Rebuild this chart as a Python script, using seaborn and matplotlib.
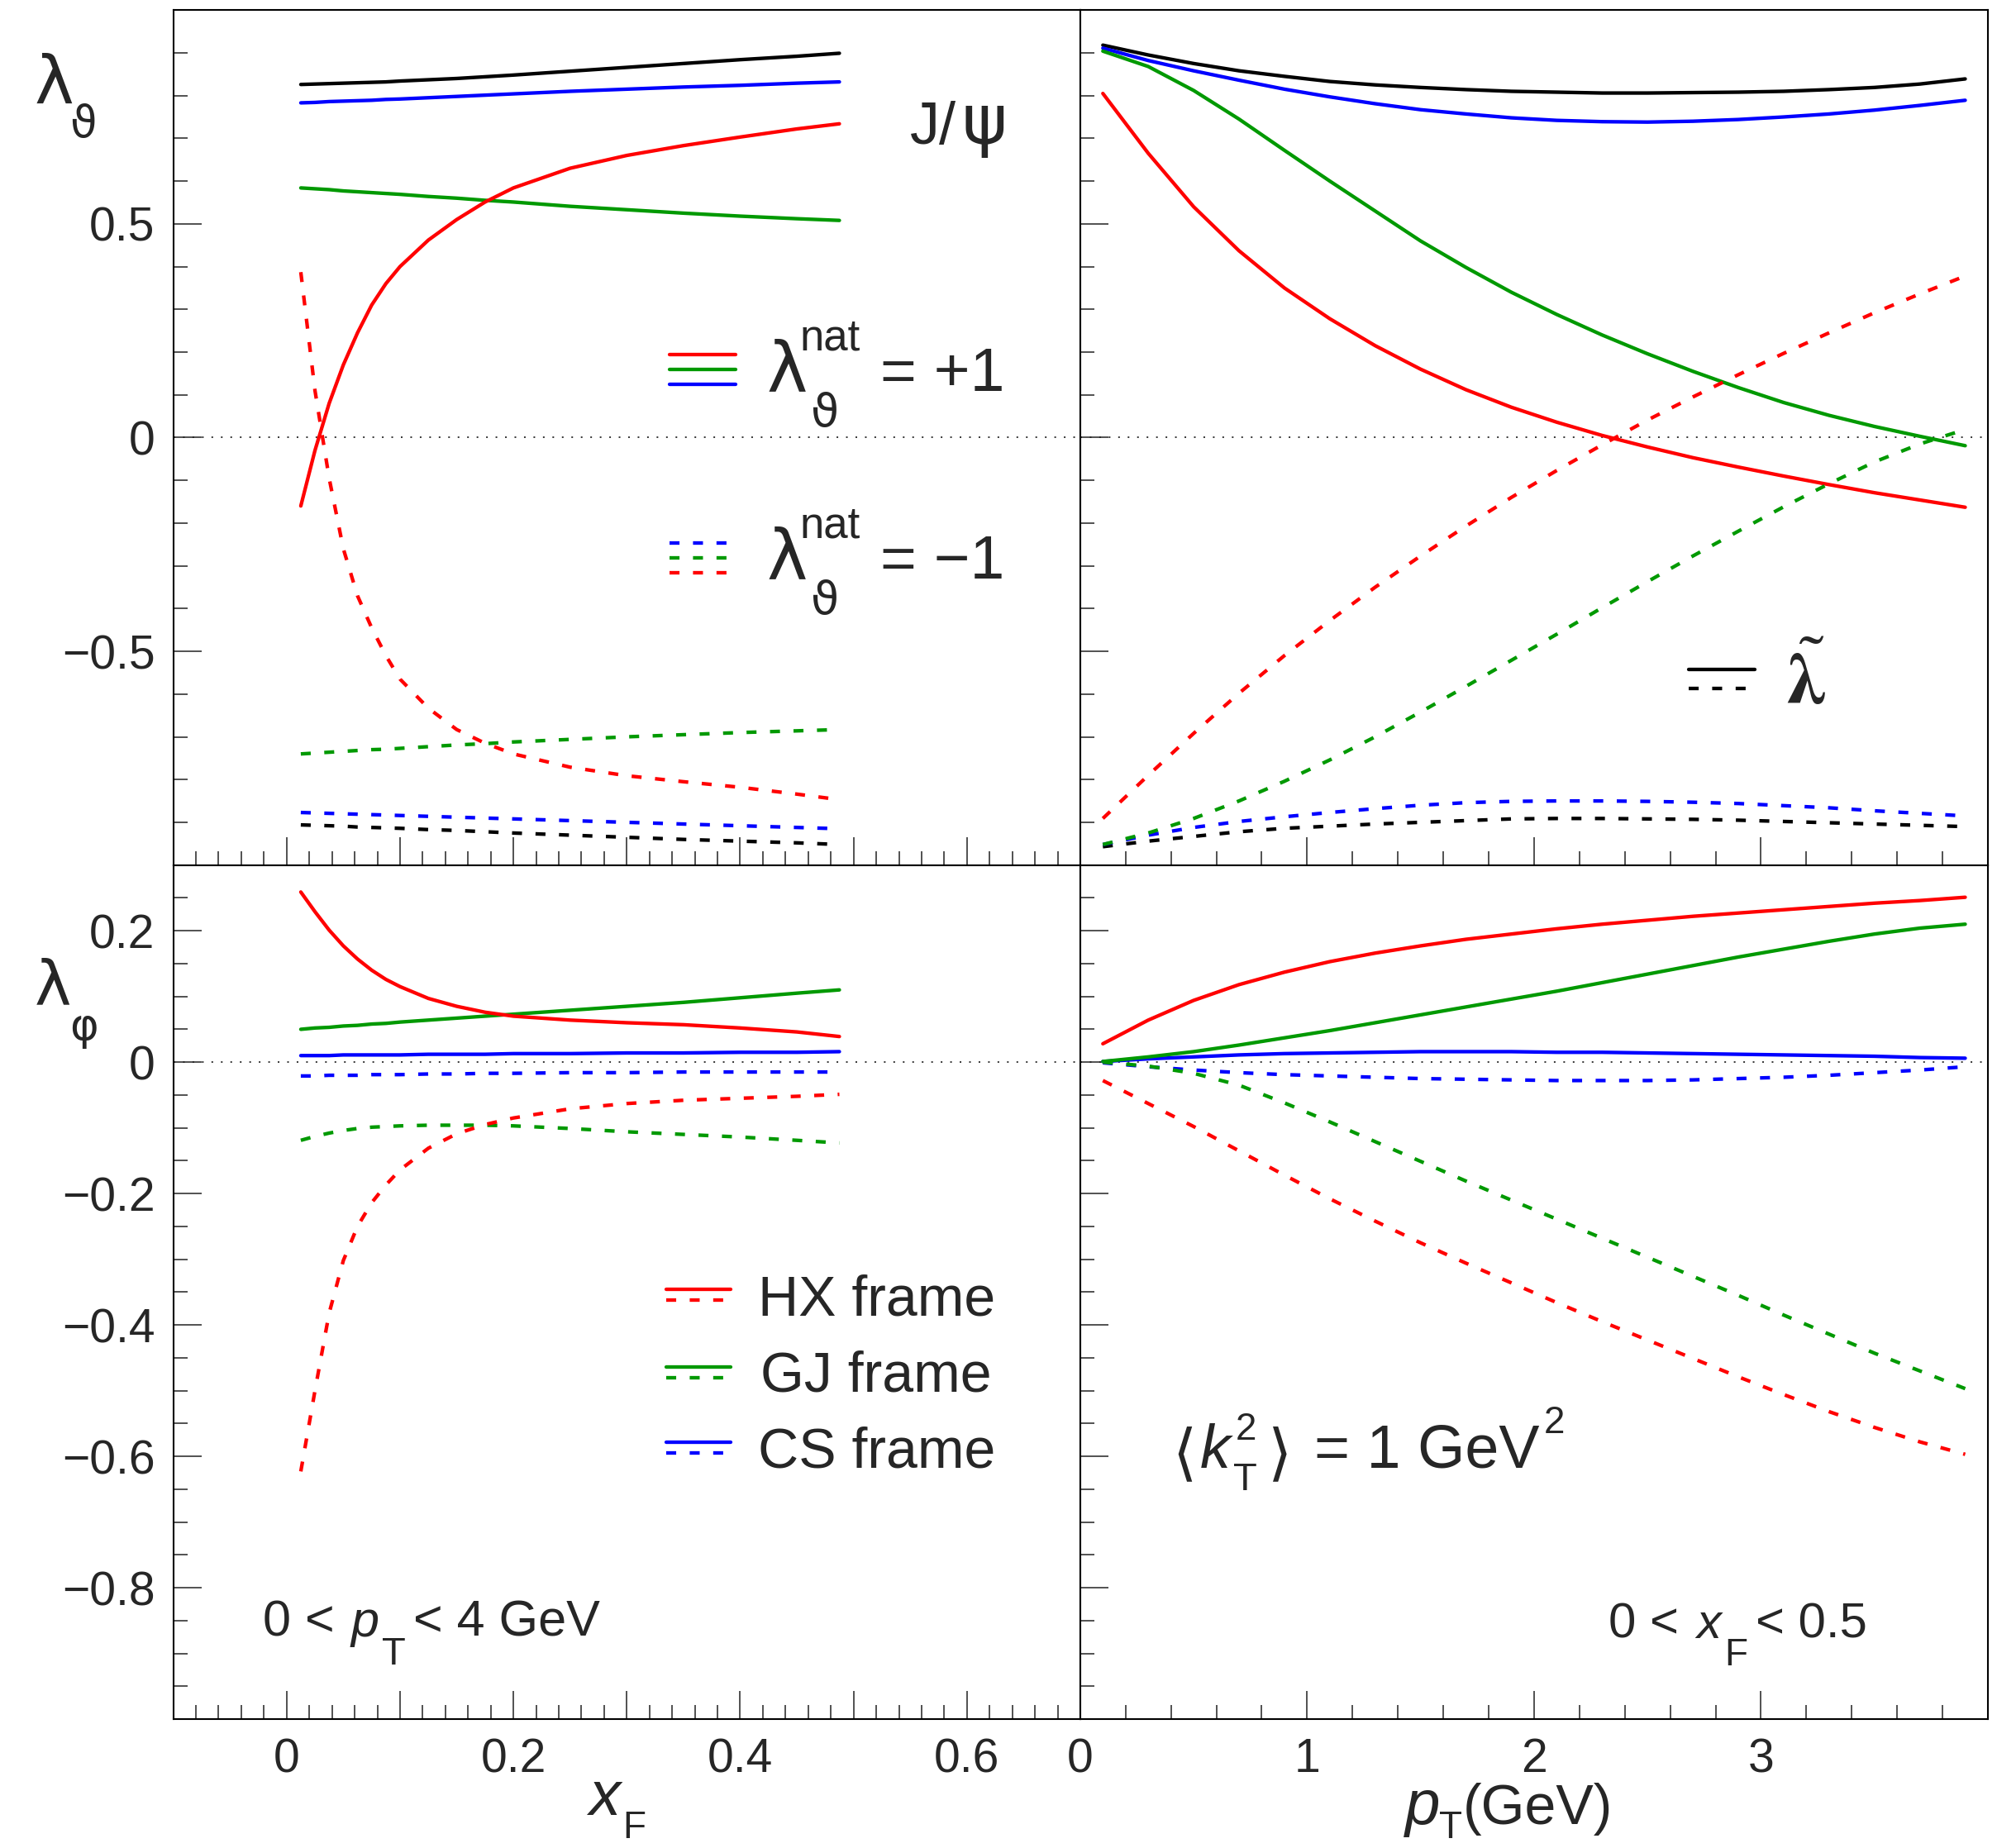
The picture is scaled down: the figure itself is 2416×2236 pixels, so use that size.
import numpy as np
import pandas as pd
import seaborn as sns
from matplotlib import pyplot as plt
from matplotlib.lines import Line2D
from matplotlib.legend_handler import HandlerBase
from matplotlib.ticker import MultipleLocator, FuncFormatter

W, H = 2416, 2236

# x grids
XF = [0.0125, 0.025, 0.0375, 0.05, 0.0625, 0.075, 0.0875, 0.1, 0.125, 0.15,
      0.175, 0.2, 0.25, 0.3, 0.35, 0.4, 0.45, 0.4875]
PT = [0.1, 0.3, 0.5, 0.7, 0.9, 1.1, 1.3, 1.5, 1.7, 1.9,
      2.1, 2.3, 2.5, 2.7, 2.9, 3.1, 3.3, 3.5, 3.7, 3.9]

# lambda_theta vs xF  (pos = lambda_nat +1, neg = lambda_nat -1)
th_xf_hx_pos = [-0.160, -0.03, 0.08, 0.17, 0.245, 0.31, 0.36, 0.40, 0.462, 0.510, 0.551, 0.584, 0.630, 0.660, 0.683, 0.703, 0.722, 0.734]
th_xf_gj_pos = [0.584, 0.582, 0.580, 0.577, 0.575, 0.573, 0.571, 0.569, 0.564, 0.560, 0.555, 0.551, 0.541, 0.533, 0.525, 0.518, 0.512, 0.508]
th_xf_cs_pos = [0.783, 0.784, 0.786, 0.787, 0.788, 0.789, 0.791, 0.792, 0.795, 0.798, 0.801, 0.804, 0.810, 0.815, 0.820, 0.824, 0.829, 0.832]
th_xf_tl_pos = [0.826, 0.827, 0.828, 0.829, 0.830, 0.831, 0.832, 0.834, 0.837, 0.840, 0.844, 0.848, 0.857, 0.866, 0.875, 0.884, 0.892, 0.899]
th_xf_hx_neg = [0.387, 0.11, -0.095, -0.26, -0.37, -0.445, -0.51, -0.565, -0.633, -0.683, -0.715, -0.740, -0.771, -0.791, -0.805, -0.818, -0.834, -0.847]
th_xf_gj_neg = [-0.740, -0.738, -0.736, -0.734, -0.732, -0.730, -0.729, -0.727, -0.723, -0.719, -0.716, -0.712, -0.706, -0.700, -0.695, -0.690, -0.686, -0.683]
th_xf_cs_neg = [-0.877, -0.878, -0.879, -0.880, -0.881, -0.882, -0.883, -0.884, -0.886, -0.888, -0.890, -0.892, -0.896, -0.900, -0.904, -0.908, -0.912, -0.915]
th_xf_tl_neg = [-0.906, -0.907, -0.908, -0.909, -0.911, -0.912, -0.913, -0.914, -0.917, -0.919, -0.922, -0.925, -0.930, -0.935, -0.940, -0.944, -0.948, -0.952]

# lambda_theta vs pT
th_pt_hx_pos = [0.805, 0.665, 0.540, 0.437, 0.350, 0.278, 0.215, 0.160, 0.112, 0.071, 0.036, 0.005, -0.022, -0.047, -0.069, -0.090, -0.110, -0.129, -0.146, -0.163]
th_pt_gj_pos = [0.904, 0.868, 0.812, 0.745, 0.672, 0.600, 0.530, 0.460, 0.398, 0.340, 0.288, 0.240, 0.196, 0.155, 0.117, 0.082, 0.052, 0.026, 0.003, -0.019]
th_pt_cs_pos = [0.911, 0.882, 0.858, 0.836, 0.815, 0.797, 0.781, 0.767, 0.757, 0.748, 0.742, 0.739, 0.738, 0.740, 0.744, 0.750, 0.757, 0.766, 0.777, 0.789]
th_pt_tl_pos = [0.918, 0.895, 0.875, 0.858, 0.845, 0.833, 0.825, 0.819, 0.814, 0.810, 0.808, 0.806, 0.806, 0.807, 0.808, 0.810, 0.814, 0.819, 0.827, 0.839]
th_pt_hx_neg = [-0.891, -0.790, -0.692, -0.598, -0.510, -0.428, -0.350, -0.277, -0.207, -0.140, -0.077, -0.017, 0.041, 0.095, 0.147, 0.197, 0.245, 0.292, 0.336, 0.378]
th_pt_gj_neg = [-0.952, -0.925, -0.891, -0.850, -0.804, -0.754, -0.700, -0.642, -0.582, -0.521, -0.460, -0.398, -0.337, -0.277, -0.219, -0.162, -0.108, -0.057, -0.015, 0.019]
th_pt_cs_neg = [-0.952, -0.930, -0.912, -0.898, -0.887, -0.877, -0.868, -0.860, -0.854, -0.851, -0.850, -0.850, -0.851, -0.853, -0.856, -0.861, -0.866, -0.873, -0.879, -0.885]
th_pt_tl_neg = [-0.957, -0.944, -0.933, -0.922, -0.914, -0.909, -0.904, -0.900, -0.896, -0.892, -0.891, -0.891, -0.892, -0.893, -0.895, -0.898, -0.901, -0.904, -0.907, -0.910]

# lambda_phi vs xF
ph_xf_hx_pos = [0.259, 0.229, 0.201, 0.177, 0.157, 0.140, 0.126, 0.115, 0.097, 0.085, 0.076, 0.070, 0.064, 0.060, 0.057, 0.052, 0.046, 0.039]
ph_xf_gj_pos = [0.050, 0.052, 0.053, 0.055, 0.056, 0.058, 0.059, 0.061, 0.064, 0.067, 0.070, 0.073, 0.079, 0.085, 0.091, 0.098, 0.105, 0.110]
ph_xf_cs_pos = [0.010, 0.010, 0.010, 0.011, 0.011, 0.011, 0.011, 0.011, 0.012, 0.012, 0.012, 0.013, 0.013, 0.014, 0.014, 0.015, 0.015, 0.016]
ph_xf_hx_neg = [-0.623, -0.500, -0.382, -0.302, -0.250, -0.214, -0.187, -0.164, -0.131, -0.109, -0.095, -0.085, -0.071, -0.063, -0.058, -0.055, -0.052, -0.049]
ph_xf_gj_neg = [-0.119, -0.113, -0.108, -0.104, -0.101, -0.099, -0.098, -0.097, -0.096, -0.096, -0.096, -0.097, -0.101, -0.106, -0.110, -0.114, -0.119, -0.123]
ph_xf_cs_neg = [-0.021, -0.021, -0.020, -0.020, -0.020, -0.019, -0.019, -0.019, -0.018, -0.018, -0.017, -0.017, -0.016, -0.016, -0.015, -0.015, -0.015, -0.015]

# lambda_phi vs pT
ph_pt_hx_pos = [0.028, 0.064, 0.094, 0.118, 0.137, 0.153, 0.166, 0.177, 0.187, 0.195, 0.203, 0.210, 0.216, 0.222, 0.227, 0.232, 0.237, 0.242, 0.246, 0.251]
ph_pt_gj_pos = [0.001, 0.008, 0.016, 0.026, 0.037, 0.048, 0.060, 0.072, 0.084, 0.096, 0.108, 0.121, 0.134, 0.147, 0.160, 0.172, 0.184, 0.195, 0.204, 0.210]
ph_pt_cs_pos = [0.001, 0.005, 0.008, 0.011, 0.013, 0.014, 0.015, 0.016, 0.016, 0.016, 0.015, 0.015, 0.014, 0.013, 0.012, 0.011, 0.010, 0.009, 0.007, 0.006]
ph_pt_hx_neg = [-0.028, -0.063, -0.098, -0.135, -0.172, -0.208, -0.242, -0.275, -0.306, -0.336, -0.366, -0.395, -0.423, -0.451, -0.479, -0.506, -0.532, -0.556, -0.578, -0.597]
ph_pt_gj_neg = [0.0, -0.006, -0.017, -0.035, -0.062, -0.091, -0.121, -0.151, -0.181, -0.210, -0.239, -0.268, -0.297, -0.326, -0.355, -0.385, -0.414, -0.443, -0.470, -0.497]
ph_pt_cs_neg = [-0.001, -0.007, -0.012, -0.016, -0.019, -0.021, -0.023, -0.025, -0.026, -0.027, -0.028, -0.028, -0.028, -0.027, -0.025, -0.023, -0.020, -0.016, -0.012, -0.007]

RED, GREEN, BLUE, BLACK = '#ff0000', '#009900', '#0000ff', '#000000'
LW = 3.1
DASH = (0, (2.8, 3.8))

sns.set_theme(style='ticks')
plt.rcParams['font.family'] = ['Liberation Sans', 'DejaVu Sans']
plt.rcParams['axes.linewidth'] = 1.5
plt.rcParams['axes.edgecolor'] = 'black'

fig = plt.figure(figsize=(W / 100, H / 100), dpi=100)
fig.patch.set_facecolor('white')

def axes_px(x0, y0, x1, y1):
    return fig.add_axes([x0 / W, 1 - y1 / H, (x1 - x0) / W, (y1 - y0) / H])

ax_tl = axes_px(209.6, 12.2, 1307, 1046.7)
ax_tr = axes_px(1306.8, 12.2, 2405, 1046.7)
ax_bl = axes_px(209.6, 1046.7, 1307, 2080)
ax_br = axes_px(1306.8, 1046.7, 2405, 2080)


def draw(ax, x, series):
    out = {}
    for key, ys, color, dashed in series:
        sns.lineplot(x=x, y=ys, ax=ax, color=color, linewidth=LW,
                     linestyle=DASH if dashed else '-')
        out[key] = ax.lines[-1]
    ax.axhline(0, color='black', lw=1.1, linestyle=(0, (1.3, 6.2)), zorder=0.5)
    return out


L_tl = draw(ax_tl, XF, [
    ('tl+', th_xf_tl_pos, BLACK, False), ('cs+', th_xf_cs_pos, BLUE, False),
    ('gj+', th_xf_gj_pos, GREEN, False), ('hx+', th_xf_hx_pos, RED, False),
    ('tl-', th_xf_tl_neg, BLACK, True), ('cs-', th_xf_cs_neg, BLUE, True),
    ('gj-', th_xf_gj_neg, GREEN, True), ('hx-', th_xf_hx_neg, RED, True)])
L_tr = draw(ax_tr, PT, [
    ('tl+', th_pt_tl_pos, BLACK, False), ('cs+', th_pt_cs_pos, BLUE, False),
    ('gj+', th_pt_gj_pos, GREEN, False), ('hx+', th_pt_hx_pos, RED, False),
    ('tl-', th_pt_tl_neg, BLACK, True), ('cs-', th_pt_cs_neg, BLUE, True),
    ('gj-', th_pt_gj_neg, GREEN, True), ('hx-', th_pt_hx_neg, RED, True)])
L_bl = draw(ax_bl, XF, [
    ('cs+', ph_xf_cs_pos, BLUE, False), ('gj+', ph_xf_gj_pos, GREEN, False),
    ('hx+', ph_xf_hx_pos, RED, False), ('cs-', ph_xf_cs_neg, BLUE, True),
    ('gj-', ph_xf_gj_neg, GREEN, True), ('hx-', ph_xf_hx_neg, RED, True)])
L_br = draw(ax_br, PT, [
    ('cs+', ph_pt_cs_pos, BLUE, False), ('gj+', ph_pt_gj_pos, GREEN, False),
    ('hx+', ph_pt_hx_pos, RED, False), ('cs-', ph_pt_cs_neg, BLUE, True),
    ('gj-', ph_pt_gj_neg, GREEN, True), ('hx-', ph_pt_hx_neg, RED, True)])


def fmt_num(v):
    v = round(v, 3) + 0.0
    s = '%g' % abs(v)
    return ('\u2212' + s) if v < 0 else s

xf_fmt = FuncFormatter(lambda v, p: fmt_num(v) if abs(v / 0.2 - round(v / 0.2)) < 1e-6 else '')
pt_fmt = FuncFormatter(lambda v, p: '%d' % round(v) if v < 3.5 else '')
th_fmt = FuncFormatter(lambda v, p: fmt_num(v) if abs(v) < 0.99 else '')
ph_fmt = FuncFormatter(lambda v, p: fmt_num(v) if v > -0.99 else '')

for ax in (ax_tl, ax_tr, ax_bl, ax_br):
    ax.set_xlabel('')
    ax.set_ylabel('')
    for s in ax.spines.values():
        s.set_linewidth(1.5)
        s.set_color('black')
    ax.tick_params(which='both', direction='in', top=False, right=False,
                   width=1.1, color='#222222', labelsize=41, pad=16)
    ax.tick_params(which='major', length=24.5)
    ax.tick_params(which='minor', length=12.5)

for ax in (ax_tl, ax_bl):
    ax.set_xlim(-0.1, 0.7)
    ax.xaxis.set_major_locator(MultipleLocator(0.1))
    ax.xaxis.set_minor_locator(MultipleLocator(0.02))
    ax.xaxis.set_major_formatter(xf_fmt)
for ax in (ax_tr, ax_br):
    ax.set_xlim(0, 4)
    ax.xaxis.set_major_locator(MultipleLocator(1))
    ax.xaxis.set_minor_locator(MultipleLocator(0.2))
    ax.xaxis.set_major_formatter(pt_fmt)
    ax.tick_params(labelleft=False)
for ax in (ax_tl, ax_tr):
    ax.set_ylim(-1, 1)
    ax.yaxis.set_major_locator(MultipleLocator(0.5))
    ax.yaxis.set_minor_locator(MultipleLocator(0.1))
    ax.yaxis.set_major_formatter(th_fmt)
    ax.tick_params(labelbottom=False)
for ax in (ax_bl, ax_br):
    ax.set_ylim(-1, 0.3)
    ax.yaxis.set_major_locator(MultipleLocator(0.2))
    ax.yaxis.set_minor_locator(MultipleLocator(0.05))
    ax.yaxis.set_major_formatter(ph_fmt)


class Stack(HandlerBase):
    def __init__(self, gap):
        super().__init__()
        self.gap = gap

    def create_artists(self, legend, orig_handle, xdescent, ydescent,
                       width, height, fontsize, trans):
        arts = []
        n = len(orig_handle)
        for i, src in enumerate(orig_handle):
            y = height / 2 - ydescent + ((n - 1) / 2 - i) * self.gap
            ln = Line2D([-xdescent, width - xdescent], [y, y])
            ln.update_from(src)
            ln.set_transform(trans)
            arts.append(ln)
        return arts


def key(lines, left, cy, length, gap):
    # legend keys only (labels are written as separate texts)
    fig.legend(handles=[tuple(lines)], labels=[''], loc='center left',
               bbox_to_anchor=(left / W, 1 - cy / H), bbox_transform=fig.transFigure,
               frameon=False, fontsize=10, handlelength=length * 0.072,
               handleheight=6, borderpad=0, borderaxespad=0, handletextpad=0,
               handler_map={tuple: Stack(gap * 0.72)})


key([L_tl['hx+'], L_tl['gj+'], L_tl['cs+']], 810, 447, 80, 17.6)
key([L_tl['cs-'], L_tl['gj-'], L_tl['hx-']], 810, 675, 77, 17.6)
key([L_tr['tl+'], L_tr['tl-']], 2043, 822, 80, 23)
key([L_bl['hx+'], L_bl['hx-']], 806, 1566, 78, 13)
key([L_bl['gj+'], L_bl['gj-']], 806, 1661, 78, 13)
key([L_bl['cs+'], L_bl['cs-']], 806, 1751, 78, 13)


def put(x, y, s, size, **kw):
    kw.setdefault('va', 'baseline')
    kw.setdefault('ha', 'left')
    fig.text(x / W, 1 - y / H, s, fontsize=size, **kw)

GREEK = ['DejaVu Sans']

# axis titles
put(42, 125, 'λ', 58, family=GREEK)
put(84, 166, 'ϑ', 38, family=GREEK)
put(42, 1215, 'λ', 54, family=GREEK)
put(84, 1258, 'φ', 38, family=GREEK)
put(712, 2196, 'x', 55, style='italic')
put(753, 2224, 'F', 33)
put(1700, 2207, 'p', 55, style='italic')
put(1741, 2224, 'T', 33)
put(1770, 2207, '(GeV)', 49)

# annotations
put(1101, 174, 'J/', 52)
put(1163, 174, 'ψ', 60, family=GREEK)
for dy, sign in ((0, '+1'), (227, '\u22121')):
    put(928, 473 + dy, 'λ', 60, family=GREEK)
    put(968, 423 + dy, 'nat', 38)
    put(981, 516 + dy, 'ϑ', 40, family=GREEK)
    put(1065, 473 + dy, '= ' + sign, 54)
put(2160, 852, r'$\tilde{\mathbf{\lambda}}$', 64, math_fontfamily='stix')

put(917, 1592, 'HX frame', 49)
put(920, 1684, 'GJ frame', 49)
put(917, 1776, 'CS frame', 49)

put(318, 1980, '0 <', 44)
put(425, 1980, 'p', 44, style='italic')
put(462, 2014, 'T', 34)
put(500, 1980, '< 4 GeV', 44)

put(1946, 1982, '0 <', 43)
put(2052, 1982, 'x', 43, style='italic')
put(2086, 2015, 'F', 33)
put(2124, 1982, '< 0.5', 43)

put(1418, 1782, '\u27e8', 54, family=GREEK)
put(1452, 1776, 'k', 53, style='italic')
put(1495, 1742, '2', 33)
put(1492, 1803, 'T', 34)
put(1534, 1782, '\u27e9', 54, family=GREEK)
put(1590, 1776, '= 1 GeV', 53)
put(1868, 1734, '2', 33)

fig.savefig('out.png', dpi=100, facecolor='white')
